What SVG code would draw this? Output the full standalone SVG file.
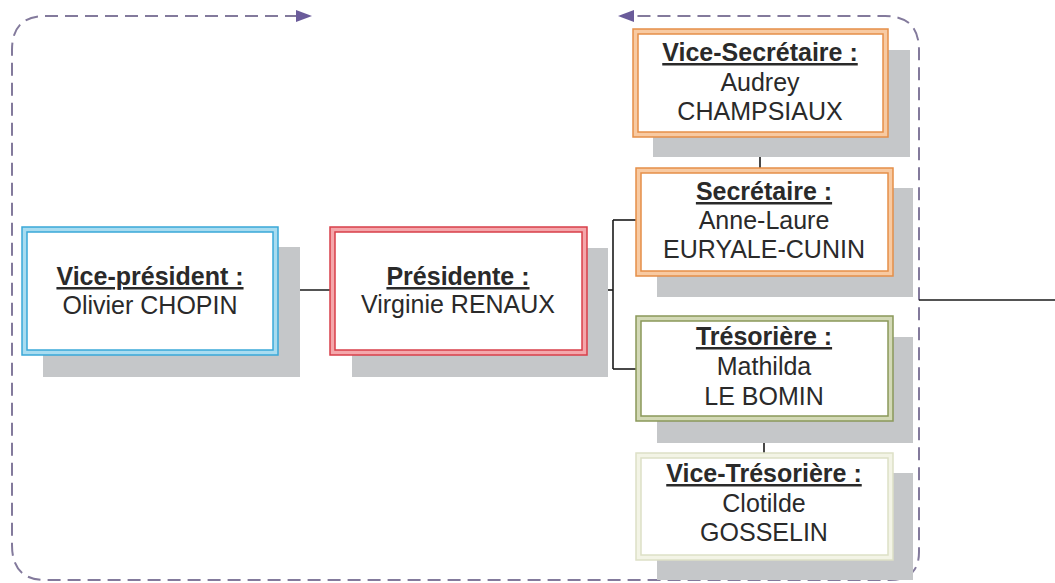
<svg xmlns="http://www.w3.org/2000/svg" width="1055" height="583" viewBox="0 0 1055 583">
<style>
text{font-family:"Liberation Sans",Arial,sans-serif;font-size:25px;fill:#2a2a2a;text-anchor:middle}
.t{font-weight:bold;text-decoration:underline}
.sh{fill:#c5c7c9}
.in{fill:#ffffff}
.conn{stroke:#1a1a1a;stroke-width:1.6;fill:none}
.loop{stroke:#837a9c;stroke-width:2;fill:none;stroke-dasharray:13 7}
</style>
<defs>
<marker id="ah" markerWidth="16" markerHeight="12" refX="2" refY="6" orient="auto-start-reverse" markerUnits="userSpaceOnUse">
<path d="M0,0 L16,6 L0,12 Z" fill="#6a5b9a"/>
</marker>
</defs>
<rect width="1055" height="583" fill="#ffffff"/>
<g id="loop">
<path class="loop" d="M298,16 H45 Q12,16 12,50 V545 Q12,580 45,580 H890 Q919,580 919,552 V50 Q919,16 885,16 H632" marker-start="url(#ah)" marker-end="url(#ah)"/>
</g>
<g id="connectors">
<path class="conn" d="M278,290 H330"/>
<path class="conn" d="M587,290 H613"/>
<path class="conn" d="M613,220 V369"/>
<path class="conn" d="M613,220 H636"/>
<path class="conn" d="M613,369 H636"/>
<path class="conn" d="M760,137 V168"/>
<path class="conn" d="M764,421 V453"/>
<path class="conn" d="M919,300 H1055"/>
</g>
<g id="vice-president">
<rect class="sh" x="43" y="247" width="257" height="130"/>
<rect x="22" y="227" width="256" height="128" fill="#a9dcf0" stroke="#3aa8d8" stroke-width="1.5"/>
<rect class="in" x="27" y="232" width="246" height="118" stroke="#3aa8d8" stroke-width="1.5"/>
<text class="t" x="150" y="285">Vice-président :</text>
<text x="150" y="314">Olivier CHOPIN</text>
</g>
<g id="presidente">
<rect class="sh" x="352" y="248" width="256" height="129"/>
<rect x="330" y="227" width="257" height="128" fill="#f4a7ab" stroke="#d83f4a" stroke-width="1.5"/>
<rect class="in" x="335" y="232" width="247" height="118" stroke="#d83f4a" stroke-width="1.5"/>
<text class="t" x="458" y="285">Présidente :</text>
<text x="458" y="313">Virginie RENAUX</text>
</g>
<g id="vice-secretaire">
<rect class="sh" x="653" y="50" width="257" height="107"/>
<rect x="633" y="29" width="255" height="108" fill="#f8caa2" stroke="#e58f48" stroke-width="1.5"/>
<rect class="in" x="638" y="34" width="245" height="98" stroke="#e58f48" stroke-width="1.5"/>
<text class="t" x="760" y="61">Vice-Secrétaire :</text>
<text x="760" y="91">Audrey</text>
<text x="760" y="120">CHAMPSIAUX</text>
</g>
<g id="secretaire">
<rect class="sh" x="657" y="188" width="256" height="109"/>
<rect x="636" y="168" width="257" height="108" fill="#f8caa2" stroke="#e58f48" stroke-width="1.5"/>
<rect class="in" x="641" y="173" width="247" height="98" stroke="#e58f48" stroke-width="1.5"/>
<text class="t" x="764" y="200">Secrétaire :</text>
<text x="764" y="229">Anne-Laure</text>
<text x="764" y="258">EURYALE-CUNIN</text>
</g>
<g id="tresoriere">
<rect class="sh" x="657" y="337" width="256" height="106"/>
<rect x="636" y="316" width="257" height="105" fill="#d3d9b6" stroke="#8a985a" stroke-width="1.5"/>
<rect class="in" x="641" y="321" width="247" height="95" stroke="#8a985a" stroke-width="1.5"/>
<text class="t" x="764" y="345">Trésorière :</text>
<text x="764" y="375">Mathilda</text>
<text x="764" y="405">LE BOMIN</text>
</g>
<g id="vice-tresoriere">
<rect class="sh" x="657" y="473" width="256" height="107"/>
<rect x="636" y="453" width="257" height="107" fill="#f3f4e6" stroke="#dde0c6" stroke-width="1.5"/>
<rect class="in" x="641" y="458" width="247" height="97" stroke="#dde0c6" stroke-width="1.5"/>
<text class="t" x="764" y="482">Vice-Trésorière :</text>
<text x="764" y="512">Clotilde</text>
<text x="764" y="541">GOSSELIN</text>
</g>
</svg>
